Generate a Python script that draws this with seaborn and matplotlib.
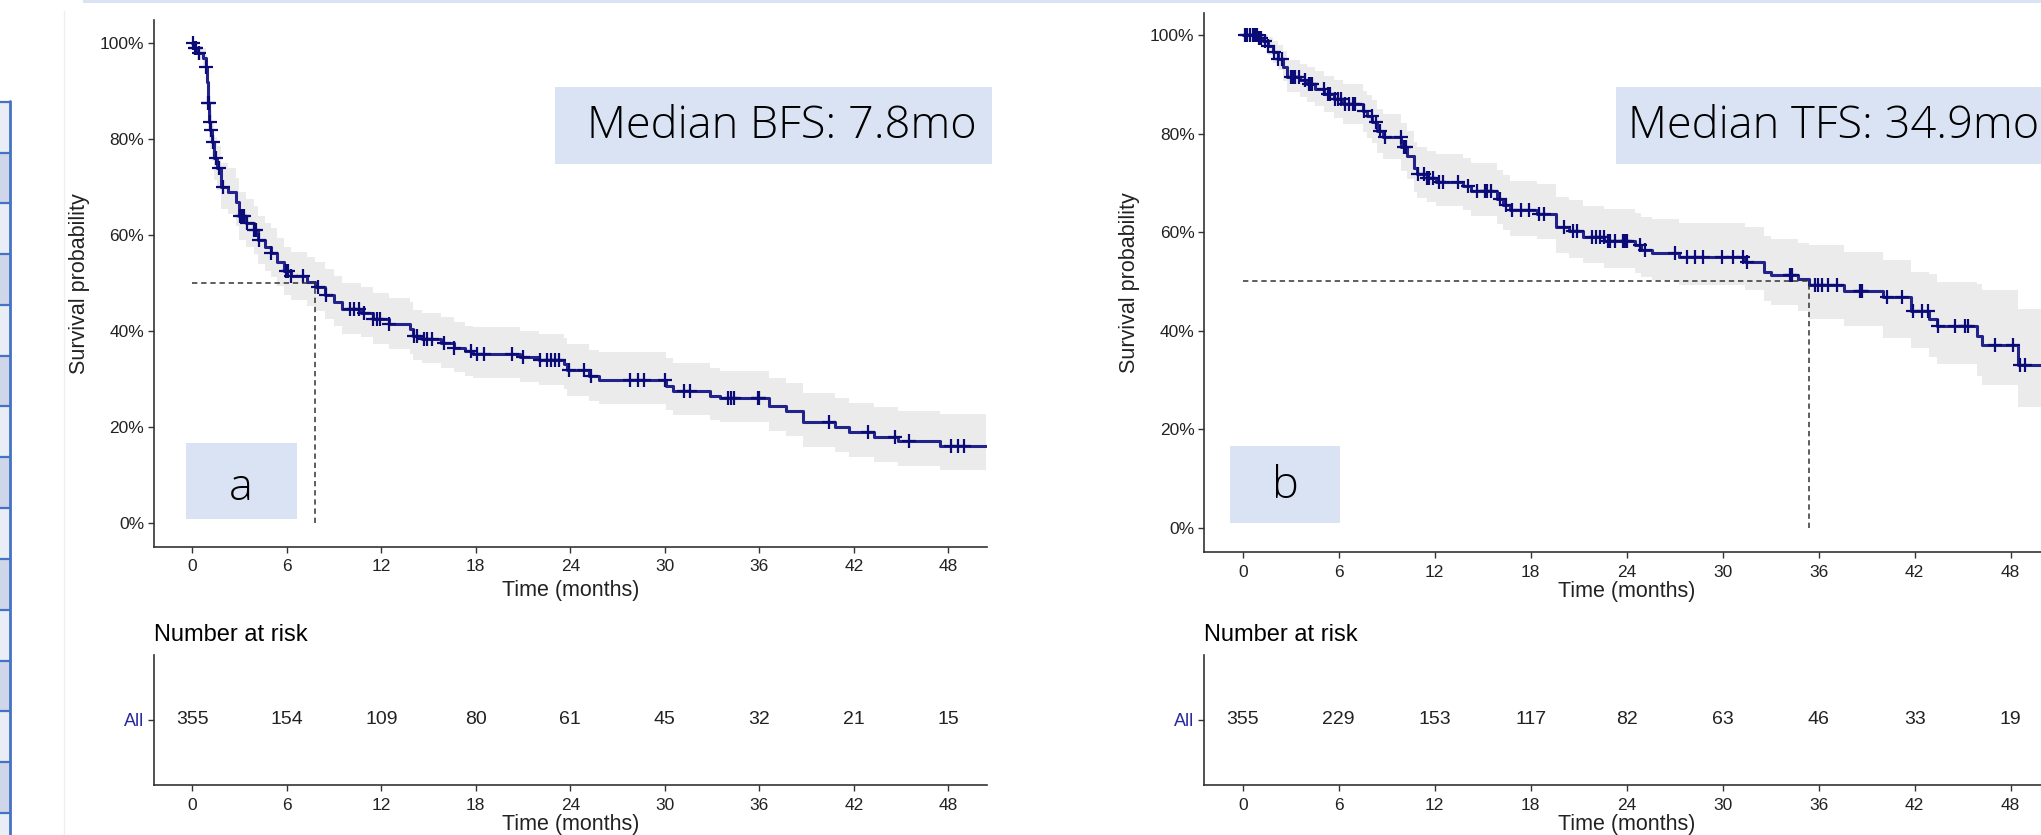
import numpy as np
import pandas as pd
import matplotlib.pyplot as plt
import matplotlib.ticker as mticker
from matplotlib.patches import Rectangle
import seaborn as sns

sns.set_theme(style="ticks")
plt.rcParams["font.family"] = ["Liberation Sans", "DejaVu Sans"]

W, H, DPI = 2041, 835, 100

# ─── Data (survival in %) ─────────────────────────────────────────────────────

bfs_time = [0, 0.1, 0.3, 0.7, 0.85, 0.95, 1.0, 1.07, 1.15, 1.25,
            1.4, 1.6, 1.85, 2.3, 2.75, 2.95, 3.4, 3.9, 4.2, 4.6,
            5.0, 5.4, 5.8, 6.3, 7.3, 7.8, 8.4, 9.0, 9.5, 10.7,
            11.5, 12.5, 13.8, 14.0, 14.6, 15.8, 16.6, 17.3, 17.8, 20.8,
            22.0, 23.6, 23.8, 25.2, 25.8, 30.1, 30.5, 32.9, 33.5, 36.6,
            37.7, 38.8, 40.8, 41.7, 43.3, 44.8, 47.5]
bfs_surv = [100, 99.0, 98.0, 97.0, 95.0, 92.0, 87.5, 83.5, 82.0, 79.5,
            76.0, 74.0, 70.0, 69.0, 67.0, 64.0, 62.5, 61.0, 59.0, 57.5,
            56.3, 54.5, 52.5, 51.5, 50.3, 49.2, 47.6, 46.0, 44.7, 43.9,
            42.5, 41.5, 40.4, 39.1, 38.4, 37.5, 36.6, 35.8, 35.3, 34.6,
            34.0, 33.2, 31.9, 30.7, 29.8, 28.7, 27.6, 26.6, 26.1, 24.4,
            23.4, 21.1, 20.0, 19.0, 18.0, 17.1, 16.0]
bfs_upper = [100, 100, 99.5, 99, 97.5, 95, 91, 87.5, 86, 83.5,
             80.5, 78.5, 75, 74, 72, 69, 67.5, 66, 64, 62.5,
             61.5, 59.5, 57.5, 56.5, 55.5, 54.5, 53, 51.5, 50, 49.3,
             48, 47, 46, 44.5, 43.8, 43, 42, 41.2, 40.8, 40,
             39.5, 38.7, 37.4, 36.2, 35.6, 34.4, 33.3, 32.3, 31.8, 30.2,
             29.3, 27.2, 26.0, 25.0, 24.2, 23.3, 22.8]
bfs_lower = [100, 98, 96.5, 95, 92.5, 89, 84, 79.5, 78, 75.5,
             71.5, 69.5, 65.5, 64.5, 62, 59, 57.5, 56, 54, 52.5,
             51.3, 49.5, 47.5, 46.5, 45.3, 44.2, 42.5, 41, 39.5, 38.8,
             37.3, 36.3, 35.2, 34, 33.3, 32.3, 31.5, 30.7, 30.2, 29.5,
             28.8, 28, 26.6, 25.5, 24.8, 23.6, 22.5, 21.5, 21.0, 19.2,
             18.2, 15.9, 14.8, 13.8, 12.8, 11.9, 11.0]
bfs_end = 50.4
bfs_censor = [0.05, 0.15, 0.25, 0.4, 0.85, 1.0, 1.05, 1.1, 1.2, 1.3, 1.48, 1.72,
              1.95, 3.0, 3.15, 3.3, 3.45, 3.9, 4.05, 4.25, 5.0, 5.95, 6.1, 6.3,
              7.0, 8.0, 8.5, 10.0, 10.25, 10.6, 10.9, 11.5, 11.7, 11.9, 12.5,
              14.1, 14.3, 14.7, 14.9, 15.2, 16.0, 16.6, 17.7, 18.1, 18.5, 20.3,
              21.0, 22.1, 22.5, 22.8, 23.0, 23.3, 23.9, 24.9, 25.3, 27.8, 28.3,
              28.7, 30.0, 31.2, 31.6, 34.0, 34.2, 34.4, 35.9, 36.0, 40.4, 42.9,
              44.6, 45.5, 48.2, 48.6, 49.0]
bfs_median = 7.8

tfs_time = [0, 1.0, 1.3, 1.6, 1.9, 2.2, 2.5, 2.75, 3.6, 4.0,
            4.5, 5.1, 5.7, 6.3, 7.5, 7.8, 8.1, 8.4, 8.8, 9.9,
            10.3, 10.7, 10.9, 11.5, 12.1, 13.8, 14.3, 15.9, 16.3, 16.7,
            18.4, 19.6, 20.4, 21.3, 22.6, 24.5, 24.9, 25.6, 27.3, 31.4,
            32.6, 33.0, 34.7, 35.4, 37.6, 40.0, 41.8, 42.9, 43.4, 45.9,
            46.2, 48.45]
tfs_surv = [100, 99.3, 98.8, 97.8, 96.5, 95.2, 93.5, 91.5, 90.8, 90.0,
            89.0, 88.0, 87.0, 86.0, 84.5, 83.5, 82.3, 80.5, 79.3, 77.2,
            75.5, 73.0, 71.8, 71.0, 70.2, 69.4, 68.3, 66.8, 65.6, 64.4,
            63.7, 61.0, 60.2, 59.0, 58.2, 57.3, 56.3, 55.8, 55.0, 54.0,
            52.0, 51.3, 50.4, 49.2, 48.0, 46.8, 44.0, 42.4, 40.9, 39.0,
            37.2, 33.1]
tfs_upper = [100, 100, 100, 99.5, 98.8, 98, 96.8, 95, 94.2, 93.5,
             92.6, 91.7, 90.9, 90, 88.7, 87.8, 86.8, 85, 84, 82.2,
             80.6, 78.3, 77.2, 76.5, 75.8, 75, 74, 72.6, 71.5, 70.4,
             69.8, 67.2, 66.5, 65.4, 64.7, 63.9, 63.0, 62.6, 61.9, 61.0,
             59.2, 58.6, 57.8, 57.3, 55.9, 54.4, 52.0, 51.5, 49.8, 49.5,
             48.2, 44.5]
tfs_lower = [100, 98, 97.5, 96, 94.3, 92.8, 90.7, 88.5, 87.5, 86.5,
             85.5, 84.3, 83.2, 82, 80.3, 79.2, 78, 76, 74.8, 72.5,
             70.7, 68.2, 67, 66.2, 65.3, 64.5, 63.3, 61.7, 60.5, 59.3,
             58.6, 55.8, 54.8, 53.7, 52.8, 51.8, 50.8, 50.2, 49.3, 48.2,
             46, 45.2, 44.0, 42.4, 41.0, 38.5, 36.4, 34.7, 33.3, 30.9,
             28.9, 24.6]
tfs_end = 50.5
tfs_censor = [0.12, 0.29, 0.48, 0.65, 0.77, 0.89, 1.01, 1.13, 1.41, 1.61, 1.97,
              2.2, 2.44, 3.04, 3.16, 3.28, 3.52, 3.88, 4.12, 4.24, 4.36, 5.08,
              5.32, 5.44, 5.8, 5.97, 6.16, 6.4, 6.64, 6.88, 7.0, 7.6, 8.08, 8.32,
              8.56, 8.91, 9.87, 10.11, 10.23, 10.95, 11.31, 11.55, 11.67, 11.91,
              12.27, 12.51, 13.47, 14.07, 14.67, 15.14, 15.26, 15.5, 16.1, 16.46,
              16.82, 17.42, 17.9, 18.5, 18.86, 20.06, 20.66, 20.9, 21.85, 22.09,
              22.33, 22.57, 22.81, 22.96, 23.27, 23.79, 23.9, 24.01, 24.83, 25.14,
              27.0, 27.75, 28.27, 28.79, 29.94, 30.66, 31.29, 31.5, 34.2, 34.31,
              35.77, 35.98, 36.19, 36.6, 37.12, 38.58, 38.68, 40.25, 41.19, 41.92,
              42.44, 42.85, 43.48, 44.52, 45.14, 45.35, 47.02, 48.16, 48.58, 48.89]
tfs_median = 35.4

risk_times = [0, 6, 12, 18, 24, 30, 36, 42, 48]
bfs_risk = [355, 154, 109, 80, 61, 45, 32, 21, 15]
tfs_risk = [355, 229, 153, 117, 82, 63, 46, 33, 19]

bfs_label = "Median BFS: 7.8mo"
tfs_label = "Median TFS: 34.9mo"

LINE = "#23238c"
MARK = "#0b0b78"
BAND = "#ebebeb"
BOX = "#dae3f3"
TXT = "#222222"


def px_rect(x0, y0, x1, y1):
    return [x0 / W, 1 - y1 / H, (x1 - x0) / W, (y1 - y0) / H]


def style_axis(ax):
    sns.despine(ax=ax)
    for s in ("left", "bottom"):
        ax.spines[s].set_color("#333333")
        ax.spines[s].set_linewidth(1.2)
    ax.tick_params(axis="both", length=4, width=1, color="#333333",
                   labelsize=12.5, labelcolor=TXT)
    ax.tick_params(axis="x", pad=5)
    ax.tick_params(axis="y", pad=3)
    ax.set_facecolor("white")
    ax.grid(False)


def km_panel(ax, time, surv, upper, lower, t_end, censor, median, xlim, ylim):
    t = np.array(time + [t_end])
    s = np.array(surv + [surv[-1]]) / 100
    up = np.array(upper + [upper[-1]]) / 100
    lo = np.array(lower + [lower[-1]]) / 100
    ax.fill_between(t, lo, up, step="post", color=BAND, lw=0, zorder=1)
    curve = pd.DataFrame({"time": t, "surv": s})
    sns.lineplot(data=curve, x="time", y="surv", drawstyle="steps-post",
                 estimator=None, sort=False, color=LINE, lw=2.2, ax=ax, zorder=3)
    idx = np.searchsorted(np.array(time), np.array(censor), side="right") - 1
    marks = pd.DataFrame({"time": censor, "surv": np.array(surv)[idx] / 100})
    sns.scatterplot(data=marks, x="time", y="surv", marker="+", s=95,
                    linewidth=1.6, color=MARK, ax=ax, zorder=4)
    ax.plot([0, median], [0.5, 0.5], ls=(0, (3.5, 2.5)), lw=1.1, color="#333333", zorder=5)
    ax.plot([median, median], [0, 0.5], ls=(0, (3.5, 2.5)), lw=1.1, color="#333333", zorder=5)
    ax.set_xlim(*xlim)
    ax.set_ylim(*ylim)
    ax.set_xticks(risk_times)
    ax.set_yticks([0, 0.2, 0.4, 0.6, 0.8, 1.0])
    ax.yaxis.set_major_formatter(mticker.FuncFormatter(lambda v, _: f"{v * 100:.0f}%"))
    style_axis(ax)
    ax.set_xlabel("Time (months)", fontsize=15.5, color=TXT)
    ax.set_ylabel("Survival probability", fontsize=15.5, color=TXT)


def risk_panel(ax, values, xlim):
    for t, n in zip(risk_times, values):
        ax.text(t, 0.5, str(n), ha="center", va="center", fontsize=14, color=TXT)
    ax.set_xlim(*xlim)
    ax.set_ylim(0, 1)
    ax.set_xticks(risk_times)
    ax.set_yticks([0.5])
    ax.set_yticklabels(["All"])
    style_axis(ax)
    ax.tick_params(axis="y", labelsize=13)
    ax.get_yticklabels()[0].set_color("#2828a0")
    ax.set_xlabel("Time (months)", fontsize=15.5, color=TXT)
    ax.set_ylabel("")
    ax.set_title("Number at risk", loc="left", fontsize=17, color="black", pad=10)


fig = plt.figure(figsize=(W / DPI, H / DPI), dpi=DPI, facecolor="white")

# slide background bits (table edge on the left, border lines)
bg = fig.add_axes([0, 0, 1, 1], zorder=-5)
bg.set_xlim(0, W)
bg.set_ylim(H, 0)
bg.axis("off")
bg.add_patch(Rectangle((83, 0), W - 83, 2.7, color=BOX, lw=0))
bg.plot([63.5, 63.5], [11, H], color="#eceff6", lw=1)
row_y = [101.7 + 50.8 * k for k in range(15)]
for k, y0 in enumerate(row_y):
    fc = "#e9edf6" if k % 2 == 0 else "#cfd6ea"
    bg.add_patch(Rectangle((0, y0), 10, min(50.8, H - y0), color=fc, lw=0))
    bg.plot([0, 10], [y0, y0], color="#4472c4", lw=1.6)
bg.plot([10, 10], [100.9, H], color="#4472c4", lw=2)

# left panel (BFS)
ax1 = fig.add_axes(px_rect(154, 20, 986.7, 546.7))
km_panel(ax1, bfs_time, bfs_surv, bfs_upper, bfs_lower, bfs_end, bfs_censor,
         bfs_median, (-2.43, 50.44), (-0.0488, 1.0485))
ax1.yaxis.set_label_coords(-0.077, 0.5)
ax1.xaxis.set_label_coords(0.5, -0.064)

# right panel (TFS), cut by the right edge of the picture
ax2 = fig.add_axes(px_rect(1204.3, 12.7, 2049.7, 552.3))
km_panel(ax2, tfs_time, tfs_surv, tfs_upper, tfs_lower, tfs_end, tfs_censor,
         tfs_median, (-2.4, 50.44), (-0.0495, 1.0452))
ax2.yaxis.set_label_coords(-0.076, 0.5)
ax2.xaxis.set_label_coords(0.5, -0.053)

# risk tables
r1 = fig.add_axes(px_rect(154, 655, 986.7, 785))
risk_panel(r1, bfs_risk, (-2.43, 50.44))
r1.xaxis.set_label_coords(0.5, -0.22)
r2 = fig.add_axes(px_rect(1204.3, 655, 2049.7, 785))
risk_panel(r2, tfs_risk, (-2.4, 50.44))
r2.xaxis.set_label_coords(0.5, -0.22)

# annotation boxes
ann = fig.add_axes([0, 0, 1, 1], zorder=10)
ann.set_xlim(0, W)
ann.set_ylim(H, 0)
ann.axis("off")
ann_font = ["Open Sans", "DejaVu Sans"]
ann.add_patch(Rectangle((554.5, 87), 437.5, 77, color=BOX, lw=0))
ann.text(782, 127, bfs_label, ha="center", va="center", fontsize=32.5,
         family=ann_font, fontweight="light", color="black")
ann.add_patch(Rectangle((1616, 87), 430, 77, color=BOX, lw=0))
ann.text(1834, 127, tfs_label, ha="center", va="center", fontsize=32.5,
         family=ann_font, fontweight="light", color="black")
ann.add_patch(Rectangle((186, 442.7), 110.7, 76, color=BOX, lw=0))
ann.text(241, 489, "a", ha="center", va="center", fontsize=32.5,
         family=ann_font, fontweight="light", color="black")
ann.add_patch(Rectangle((1230, 446), 109.5, 77.3, color=BOX, lw=0))
ann.text(1285, 487, "b", ha="center", va="center", fontsize=32.5,
         family=ann_font, fontweight="light", color="black")

fig.savefig("out.png", dpi=DPI)
